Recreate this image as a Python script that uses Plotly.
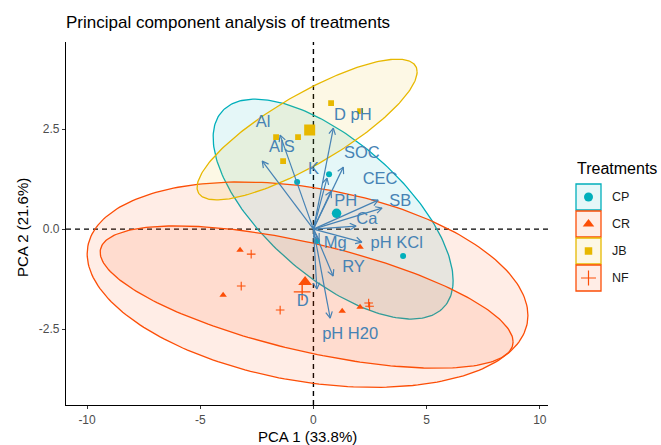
import numpy as np
import plotly.graph_objects as go

# ---- individual scores on PC1 / PC2, by treatment ----
cp_x = [-0.72, 0.69, 0.16, 3.96]
cp_y = [1.175, 1.375, -0.30, -0.675]
cr_x = [-3.24, -3.99, 2.06, 1.27, 2.06]
cr_y = [-0.525, -1.65, -0.45, -2.05, -1.95]
jb_x = [0.78, 2.06, -0.68, -1.65, -1.34]
jb_y = [3.15, 2.95, 2.30, 2.30, 1.70]
nf_x = [-2.75, -3.19, -1.47, 2.44, 2.48]
nf_y = [-0.625, -1.425, -2.025, -1.85, -1.93]

treatments = ["CP", "CR", "JB", "NF"]
palette = ["#00AFBB", "#FC4E07", "#E7B800", "#FC4E07"]
symbols = ["circle", "triangle-up", "square", "cross-thin"]

# ---- concentration ellipses: centre, spread on each axis, correlation ----
ell_cx = [0.87, -0.26, -0.28, -0.30]
ell_cy = [0.50, -1.39, 2.49, -1.70]
ell_sx = [5.30, 9.735, 4.86, 9.12]
ell_sy = [2.75, 2.57, 1.76, 1.78]
ell_rho = [-0.65, -0.30, 0.82, -0.63]

# ---- variable loadings (arrow tips) and label anchors ----
variables = ["Al", "AlS", "D pH", "SOC", "K", "CEC", "PH", "SB", "Ca",
             "pH KCl", "Mg", "RY", "D", "pH H20"]
load_x = [-1.47, -2.26, 0.88, 1.32, 0.60, 2.86, 0.78, 3.03, 1.885,
          2.14, 0.25, 0.87, 0.15, 0.74]
load_y = [2.35, 1.70, 2.525, 1.55, 1.275, 0.725, 0.95, 0.525, 0.075,
          -0.325, -0.275, -1.175, -1.50, -2.225]
lab_x = [-2.22, -1.395, 1.74, 2.14, 0.0, 2.945, 1.43, 3.83, 2.36,
         3.68, 0.96, 1.77, -0.47, 1.62]
lab_y = [2.65, 2.025, 2.84, 1.875, 1.48, 1.23, 0.67, 0.67, 0.23,
         -0.375, -0.375, -0.96, -1.825, -2.65]

# ---- axes ----
x_ticks = [-10, -5, 0, 5, 10]
x_ticktext = ["-10", "-5", "0", "5", "10"]
y_ticks = [-2.5, 0.0, 2.5]
y_ticktext = ["-2.5", "0.0", "2.5"]
x_range = [-10.93, 10.375]
y_range = [-4.40, 4.68]

W, H = 661, 445
ML, MT, MB = 66, 42, 40
PANEL_RIGHT = 548.3
plot_w = W - ML
plot_h = H - MT - MB
dom_end = (PANEL_RIGHT - ML) / plot_w

FONT = "Liberation Sans, Arial, sans-serif"
ARROW = "#4682B4"


def rgba(hex_color, a):
    h = hex_color.lstrip("#")
    r, g, b = int(h[0:2], 16), int(h[2:4], 16), int(h[4:6], 16)
    return f"rgba({r},{g},{b},{a})"


scores_x = [cp_x, cr_x, jb_x, nf_x]
scores_y = [cp_y, cr_y, jb_y, nf_y]

fig = go.Figure()

# ellipses
t = np.linspace(0, 2 * np.pi, 241)
for i, g in enumerate(treatments):
    r = ell_rho[i]
    ex = ell_cx[i] + ell_sx[i] * np.cos(t)
    ey = ell_cy[i] + ell_sy[i] * (r * np.cos(t) + np.sqrt(1 - r * r) * np.sin(t))
    fig.add_trace(go.Scatter(
        x=ex, y=ey, mode="lines", fill="toself",
        fillcolor=rgba(palette[i], 0.1),
        line=dict(color=palette[i], width=1.3),
        hoverinfo="skip", showlegend=False))

# individual points
small_size = {"circle": 6, "triangle-up": 6.5, "square": 5.8, "cross-thin": 6.2}
for i, g in enumerate(treatments):
    sym = symbols[i]
    fig.add_trace(go.Scatter(
        x=scores_x[i], y=scores_y[i], mode="markers", name=g,
        marker=dict(symbol=sym, size=small_size[sym], color=palette[i],
                    line=dict(color=palette[i], width=1.1 if sym == "cross-thin" else 0)),
        showlegend=False))

# group means
big_size = {"circle": 9.5, "triangle-up": 12, "square": 11, "cross-thin": 12}
for i, g in enumerate(treatments):
    sym = symbols[i]
    fig.add_trace(go.Scatter(
        x=[np.mean(scores_x[i])], y=[np.mean(scores_y[i])], mode="markers",
        marker=dict(symbol=sym, size=big_size[sym], color=palette[i],
                    line=dict(color=palette[i], width=1.4 if sym == "cross-thin" else 0)),
        hoverinfo="skip", showlegend=False))

# loading arrows with open heads
kx = (PANEL_RIGHT - ML) / (x_range[1] - x_range[0])
ky = plot_h / (y_range[1] - y_range[0])
head = 7.0
ang = np.deg2rad(28)
sx_, sy_ = [], []
for x, y in zip(load_x, load_y):
    sx_ += [0, x, None]
    sy_ += [0, y, None]
    px, py = x * kx, y * ky
    n = np.hypot(px, py)
    ux, uy = px / n, py / n
    pts = []
    for s in (ang, -ang):
        bx = ux * np.cos(s) - uy * np.sin(s)
        by = ux * np.sin(s) + uy * np.cos(s)
        pts.append((x - head * bx / kx, y - head * by / ky))
    sx_ += [pts[0][0], x, pts[1][0], None]
    sy_ += [pts[0][1], y, pts[1][1], None]
fig.add_trace(go.Scatter(x=sx_, y=sy_, mode="lines",
                         line=dict(color=ARROW, width=1.2),
                         hoverinfo="skip", showlegend=False))

fig.add_trace(go.Scatter(
    x=lab_x, y=lab_y, mode="text", text=variables, textposition="middle center",
    textfont=dict(family=FONT, size=16.5, color=ARROW),
    hoverinfo="skip", showlegend=False))

# dashed reference lines through the origin
fig.add_shape(type="line", xref="x", yref="y domain", x0=0, x1=0, y0=0, y1=1,
              line=dict(color="black", width=1.4, dash="5px,4px"), layer="below")
fig.add_shape(type="line", xref="x domain", yref="y", x0=0, x1=1, y0=0, y1=0,
              line=dict(color="black", width=1.4, dash="5px,4px"), layer="below")

# ---- legend drawn on a pixel-scaled helper axis ----
leg_x0 = 0.83
fig.update_layout(
    xaxis2=dict(domain=[leg_x0, 1], range=[ML + leg_x0 * plot_w, W], visible=False,
                anchor="y2", fixedrange=True),
    yaxis2=dict(domain=[0, 1], range=[MT + plot_h, MT], visible=False,
                anchor="x2", fixedrange=True),
)
key_top = [184, 211, 238, 265]
key_h = 26
leg_sizes = {"circle": 9, "triangle-up": 10, "square": 7.5, "cross-thin": 10.7}
for i, g in enumerate(treatments):
    y0 = key_top[i]
    fig.add_shape(type="rect", xref="x2", yref="y2", x0=576, x1=601,
                  y0=y0, y1=y0 + key_h,
                  line=dict(color=palette[i], width=1.3),
                  fillcolor=rgba(palette[i], 0.1), layer="below")
    sym = symbols[i]
    fig.add_trace(go.Scatter(
        x=[588.5], y=[y0 + key_h / 2], xaxis="x2", yaxis="y2", mode="markers",
        marker=dict(symbol=sym, size=leg_sizes[sym], color=palette[i],
                    line=dict(color=palette[i], width=1.2 if sym == "cross-thin" else 0)),
        hoverinfo="skip", showlegend=False))
    fig.add_annotation(x=610, y=y0 + key_h / 2, xref="x2", yref="y2", text=g,
                       showarrow=False, xanchor="left", yanchor="middle",
                       font=dict(family=FONT, size=12.5, color="#1A1A1A"))
fig.add_annotation(x=575, y=168, xref="x2", yref="y2", text="Treatments",
                   showarrow=False, xanchor="left", yanchor="middle",
                   font=dict(family=FONT, size=16, color="black"))

# axis titles
fig.add_annotation(x=dom_end / 2, y=-(436.5 - (MT + plot_h)) / plot_h, xref="paper", yref="paper",
                   text="PCA 1 (33.8%)", showarrow=False, xanchor="center", yanchor="middle",
                   font=dict(family=FONT, size=15, color="black"))
fig.add_annotation(x=(22 - ML) / plot_w, y=(MT + plot_h - 228) / plot_h, xref="paper", yref="paper",
                   text="PCA 2 (21.6%)", showarrow=False, textangle=-90,
                   xanchor="center", yanchor="middle",
                   font=dict(family=FONT, size=15, color="black"))

axis_common = dict(showline=True, linecolor="black", linewidth=1.2, showgrid=False,
                   zeroline=False, ticks="outside", ticklen=3, tickwidth=1,
                   tickcolor="#333333", tickfont=dict(family=FONT, size=12, color="#4D4D4D"),
                   fixedrange=True)
fig.update_layout(
    width=W, height=H,
    margin=dict(l=ML, r=0, t=MT, b=MB),
    paper_bgcolor="white", plot_bgcolor="white",
    xaxis=dict(domain=[0, dom_end], range=x_range, tickvals=x_ticks, ticktext=x_ticktext,
               anchor="y", **axis_common),
    yaxis=dict(domain=[0, 1], range=y_range, tickvals=y_ticks, ticktext=y_ticktext,
               anchor="x", **axis_common),
    title=dict(text="Principal component analysis of treatments",
               x=ML / W, xanchor="left", xref="container",
               y=1 - 22 / H, yanchor="middle", yref="container",
               font=dict(family=FONT, size=17, color="black")),
    showlegend=False,
)

fig.write_html("out.html")
